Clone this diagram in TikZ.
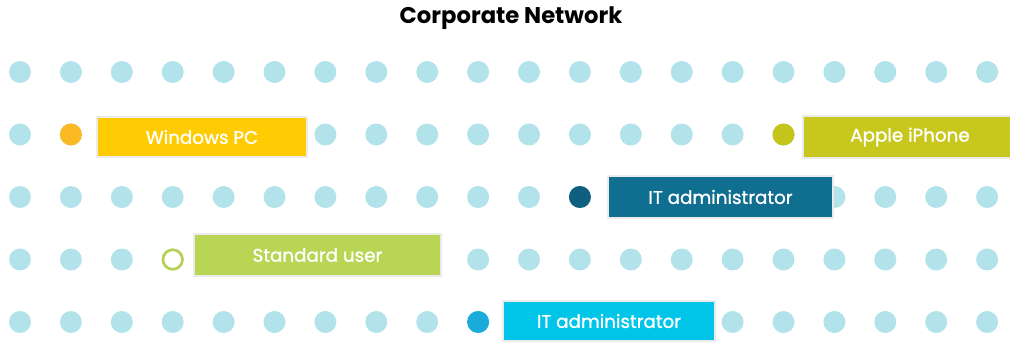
\documentclass[tikz,border=0pt]{standalone}
\usepackage{fontspec}
\setmainfont{Poppins}
\newfontfamily\labelfont[FakeBold=1.2]{Poppins}
\definecolor{dotc}{HTML}{B3E3EA}
\definecolor{winc}{HTML}{FFCC03}
\definecolor{windot}{HTML}{FBB924}
\definecolor{applec}{HTML}{C7C71E}
\definecolor{appledot}{HTML}{C5C41C}
\definecolor{itdc}{HTML}{106E91}
\definecolor{itddot}{HTML}{0F5F80}
\definecolor{stdc}{HTML}{B8D554}
\definecolor{stddot}{HTML}{B5D14F}
\definecolor{itlc}{HTML}{00C5E8}
\definecolor{itldot}{HTML}{1BABDB}
\tikzset{
  dotmark/.style={circle, fill=dotc, inner sep=0pt, minimum size=22pt},
  labelbox/.style={rectangle, draw=black!8, line width=1.5pt, text=white,
    font=\labelfont\fontsize{18.3}{21}\selectfont, inner sep=0pt, minimum height=40pt},
  titletext/.style={font=\bfseries\fontsize{22.7}{25}\selectfont, text=black}
}
\begin{document}
\begin{tikzpicture}[x=1pt,y=-1pt]
\useasboundingbox (0,0) rectangle (1010,341);
% grid of dots
\foreach \r/\yy in {1/72,2/134.5,3/197,4/259.5,5/322}{
  \foreach \c in {0,...,19}{
    \node[dotmark] (d\r-\c) at ({20+\c*50.9},\yy) {};
  }
}
% highlighted dots
\node[dotmark, fill=windot] (pwin) at (d2-1) {};
\node[dotmark, fill=appledot] (papple) at (d2-15) {};
\node[dotmark, fill=itddot] (pitd) at (d3-11) {};
\node[circle, fill=white, draw=stddot, line width=2.6pt, inner sep=0pt, minimum size=19.5pt] (pstd) at (d4-3) {};
\node[dotmark, fill=itldot] (pitl) at (d5-9) {};
% label boxes
\node[labelbox, fill=winc, minimum width=210pt] (win) at (202,137) {Windows PC};
\node[labelbox, fill=applec, minimum width=214pt, minimum height=42pt] (apple) at (910,137) {Apple iPhone};
\node[labelbox, fill=itdc, minimum width=225pt, minimum height=42pt] (itd) at (720.5,197) {IT administrator};
\node[labelbox, fill=stdc, minimum width=247pt, minimum height=42pt] (std) at (317.5,255) {Standard user};
\node[labelbox, fill=itlc, minimum width=212pt] (itl) at (609,321) {IT administrator};
% title
\node[titletext] (title) at (511,18) {Corporate Network};
\end{tikzpicture}
\end{document}
